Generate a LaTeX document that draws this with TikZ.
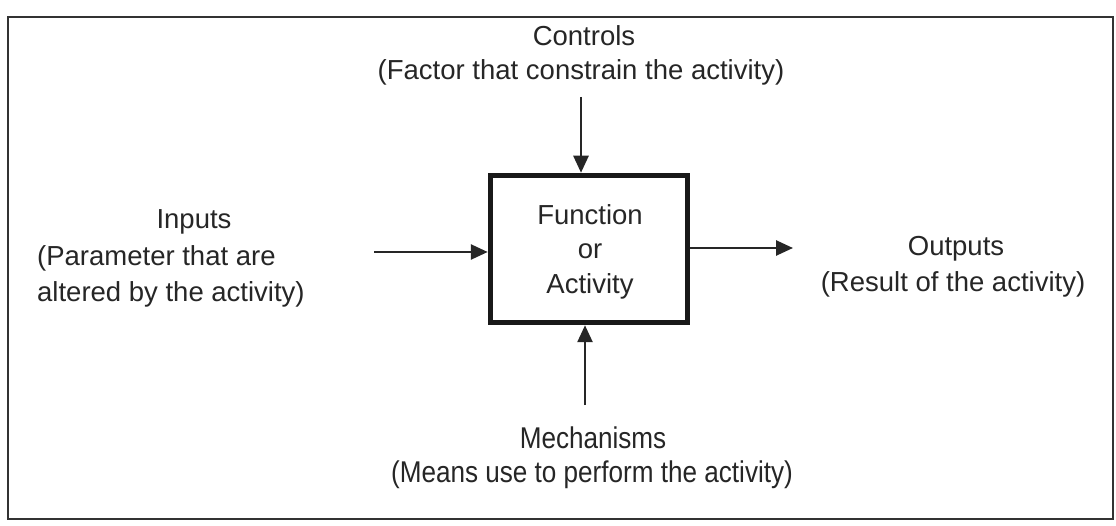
\documentclass[tikz,border=0pt]{standalone}
\usepackage{fontspec}
\setmainfont{Liberation Sans}
\usetikzlibrary{arrows.meta}
\begin{document}
\begin{tikzpicture}[x=1pt,y=-1pt,
  lbl/.style={inner sep=0pt, text=black!85, font=\fontsize{27.5}{32}\selectfont},
  flow/.style={line width=2.6pt, draw=black!85, -{Triangle[length=17pt,width=15pt]}},
  fnbox/.style={draw=black!90, line width=5.5pt, minimum width=197pt, minimum height=147pt, inner sep=0pt}]
  \useasboundingbox (0,0) rectangle (1116,526);
  \fill[white] (0,0) rectangle (1116,526);
  % outer frame
  \draw[black!80, line width=2.6pt] (8,17) rectangle (1113,519);

  % central function box
  \node[fnbox] (fn) at (589,249) {};
  \node[lbl] (fnA) at (590,215) {Function};
  \node[lbl] (fnB) at (590,251) {or};
  \node[lbl] (fnC) at (590,286) {Activity};

  % controls
  \node[lbl] (ctlA) at (584,36) {Controls};
  \node[lbl] (ctlB) at (581,72) {(Factor that constrain the activity)};
  \coordinate (ctlS) at (581,97);
  \draw[flow] (ctlS) -- (ctlS |- fn.north);

  % inputs
  \node[lbl] (inA) at (194,222) {Inputs};
  \node[lbl, anchor=west] (inB) at (37,258) {(Parameter that are};
  \node[lbl, anchor=west] (inC) at (37,294) {altered by the activity)};
  \coordinate (inS) at (374,252);
  \draw[flow] (inS) -- (inS -| fn.west);

  % outputs
  \coordinate (outE) at (793,248);
  \draw[flow] (outE -| fn.east) -- (outE);
  \node[lbl] (outA) at (956,249) {Outputs};
  \node[lbl] (outB) at (953,284) {(Result of the activity)};

  % mechanisms, set in a narrower, taller face
  \coordinate (mechS) at (585,405);
  \draw[flow] (mechS) -- (mechS |- fn.south);
  \node[lbl, font=\fontsize{30}{34}\selectfont, xscale=0.87] (mechA) at (593,438) {Mechanisms};
  \node[lbl, font=\fontsize{30}{34}\selectfont, xscale=0.87] (mechB) at (592,475) {(Means use to perform the activity)};
\end{tikzpicture}
\end{document}
